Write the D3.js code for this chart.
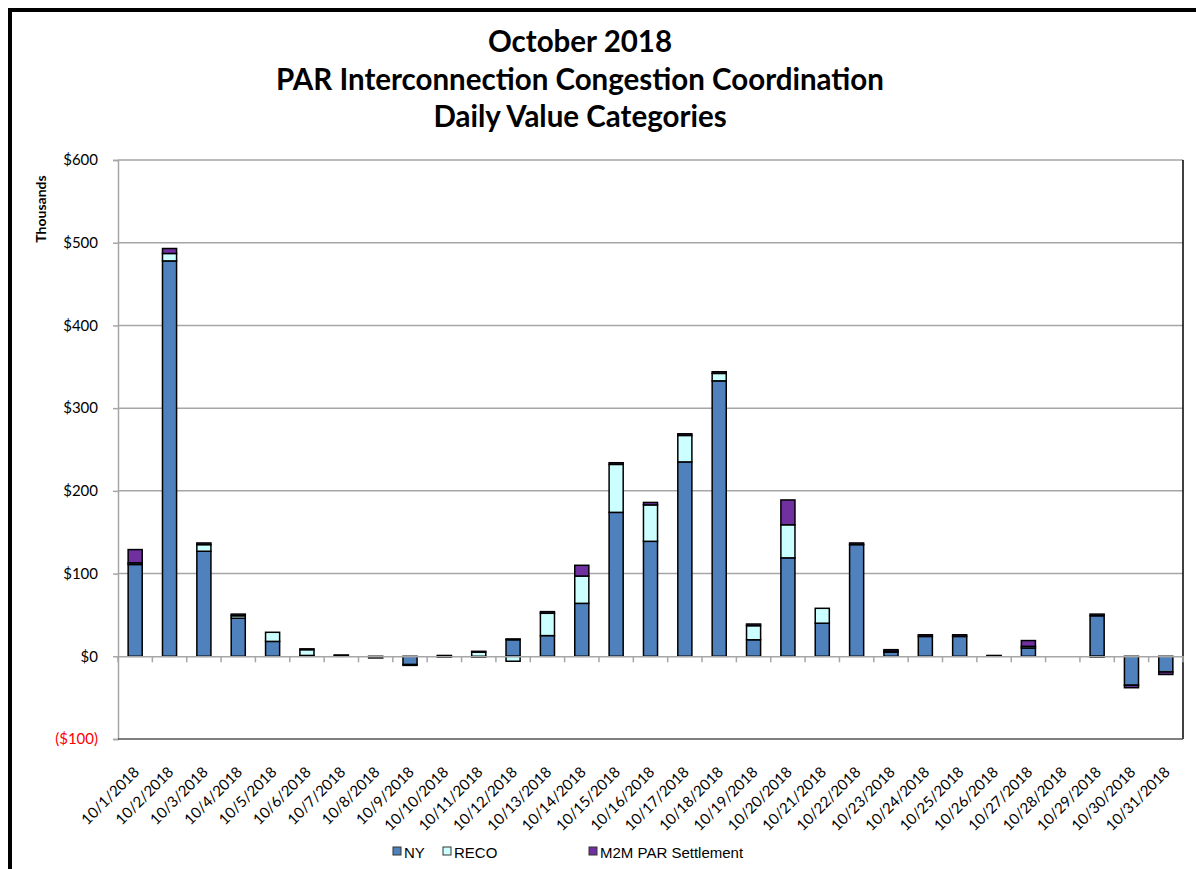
<!DOCTYPE html>
<html>
<head>
<meta charset="utf-8">
<script src="https://cdn.jsdelivr.net/npm/d3@7"></script>
<style>
  body { margin: 0; background: #fff; }
  svg { display: block; }
</style>
</head>
<body>
<div id="chart"></div>
<script>
// categories and series (thousands of $)
const dates = ["10/1/2018","10/2/2018","10/3/2018","10/4/2018","10/5/2018","10/6/2018","10/7/2018","10/8/2018",
  "10/9/2018","10/10/2018","10/11/2018","10/12/2018","10/13/2018","10/14/2018","10/15/2018","10/16/2018",
  "10/17/2018","10/18/2018","10/19/2018","10/20/2018","10/21/2018","10/22/2018","10/23/2018","10/24/2018",
  "10/25/2018","10/26/2018","10/27/2018","10/28/2018","10/29/2018","10/30/2018","10/31/2018"];
const ny   = [111, 478, 127, 46, 18, 1, 1, -2, -10, -1, -1, 20, 25, 64, 174, 139, 235, 333, 20, 119, 40, 135, 5, 24, 24, 0.5, 10, 0, 49, -35, -19];
const reco = [2, 9, 8, 3, 11, 7, 0, 0, 0, 1, 5, -6, 27, 33, 58, 44, 32, 9, 17, 40, 18, 0, 1, 0, 0, 0, 2, 0, -1, 0, 0];
const m2m  = [16, 6, 2, 2, 0, 1, 0.5, 0, -1, 0, 1, 1, 2, 13, 2, 3, 2, 2, 2, 30, 0, 2, 2, 2, 2, 0.5, 7, 0, 2, -3, -3];
const seriesNames = ["NY", "RECO", "M2M PAR Settlement"];
const yTicks = [-100, 0, 100, 200, 300, 400, 500, 600];
const titleLines = ["October 2018", "PAR Interconnection Congestion Coordination", "Daily Value Categories"];

function main() {
  const W = 1196, H = 869;
  const plot = {left: 118, right: 1183, top: 160, bottom: 739};
  const colors = ["#4F81BD", "#CCFFFF", "#7030A0"];

  const svg = d3.select("#chart").append("svg")
    .attr("width", W).attr("height", H);

  // outer frame
  svg.append("rect")
    .attr("x", 10).attr("y", 10)
    .attr("width", 1200).attr("height", 900)
    .attr("fill", "#fff").attr("stroke", "#000").attr("stroke-width", 4);

  // title
  svg.append("text")
    .attr("text-anchor", "middle")
    .attr("font-family", "Lato, 'Open Sans', sans-serif")
    .attr("font-weight", "bold").attr("font-size", 29.5)
    .selectAll("tspan").data(titleLines).enter().append("tspan")
    .attr("x", 580).attr("y", (d, i) => 52 + i * 37.5)
    .text(d => d);

  const rows = dates.map((d, i) => ({date: d, NY: ny[i], RECO: reco[i], "M2M PAR Settlement": m2m[i]}));
  const stacked = d3.stack().keys(seriesNames).offset(d3.stackOffsetDiverging)(rows);

  const x = d3.scaleBand().domain(dates)
    .range([plot.left, plot.right])
    .paddingInner(0.59).paddingOuter(0.295);
  const y = d3.scaleLinear().domain([-100, 600]).range([plot.bottom, plot.top]);

  // gridlines
  svg.append("g").selectAll("line")
    .data(yTicks.filter(t => t > 0)).enter().append("line")
    .attr("x1", plot.left).attr("x2", plot.right)
    .attr("y1", d => y(d)).attr("y2", d => y(d))
    .attr("stroke", "#a6a6a6").attr("stroke-width", 1.5);

  // y axis
  const yAxis = svg.append("g")
    .attr("transform", `translate(${plot.left},0)`)
    .call(d3.axisLeft(y).tickValues(yTicks).tickSize(5).tickPadding(15)
      .tickFormat(d => d < 0 ? "($" + Math.abs(d) + ")" : "$" + d));
  yAxis.select(".domain").attr("stroke", "#a6a6a6").attr("stroke-width", 1.5);
  yAxis.selectAll(".tick line").attr("stroke", "#a6a6a6").attr("stroke-width", 1.5);
  yAxis.selectAll(".tick text")
    .attr("font-family", "Lato, 'Open Sans', sans-serif").attr("font-size", 15)
    .attr("fill", d => d < 0 ? "#ff0000" : "#000");

  svg.append("text")
    .attr("transform", "translate(46,209) rotate(-90)")
    .attr("text-anchor", "middle")
    .attr("font-family", "Lato, sans-serif").attr("font-weight", "bold").attr("font-size", 14)
    .text("Thousands");

  // plot border right / bottom
  svg.append("line").attr("x1", plot.right).attr("x2", plot.right)
    .attr("y1", plot.top).attr("y2", plot.bottom)
    .attr("stroke", "#000").attr("stroke-width", 1.5);
  svg.append("line").attr("x1", plot.left).attr("x2", plot.right)
    .attr("y1", plot.bottom).attr("y2", plot.bottom)
    .attr("stroke", "#555").attr("stroke-width", 1.5);

  // bars
  svg.append("g").selectAll("g")
    .data(stacked).enter().append("g")
    .attr("fill", (d, i) => colors[i])
    .selectAll("rect").data(d => d).enter().append("rect")
    .attr("x", d => x(d.data.date))
    .attr("width", x.bandwidth())
    .attr("y", d => y(Math.max(d[0], d[1])))
    .attr("height", d => Math.abs(y(d[0]) - y(d[1])))
    .attr("stroke", "#000").attr("stroke-width", 1.5);

  // category axis at zero
  const xAxis = svg.append("g")
    .attr("transform", `translate(0,${y(0)})`)
    .call(d3.axisBottom(x).tickSize(0).tickFormat(""));
  xAxis.select(".domain").attr("stroke", "#a6a6a6").attr("stroke-width", 1.5);
  const step = x.step();
  svg.append("g").selectAll("line")
    .data(d3.range(dates.length + 1)).enter().append("line")
    .attr("x1", i => plot.left + i * step).attr("x2", i => plot.left + i * step)
    .attr("y1", y(0)).attr("y2", y(0) + 6)
    .attr("stroke", "#a6a6a6").attr("stroke-width", 1.5);

  // rotated date labels at the bottom
  svg.append("g").selectAll("text")
    .data(dates).enter().append("text")
    .attr("transform", d => `translate(${x(d) + x.bandwidth() / 2 + 5},${plot.bottom + 34}) rotate(-45)`)
    .attr("text-anchor", "end")
    .attr("font-family", "Lato, 'Open Sans', sans-serif").attr("font-size", 15)
    .text(d => d);

  // legend
  const legendX = [393, 443, 589];
  const lg = svg.append("g").selectAll("g")
    .data(seriesNames).enter().append("g")
    .attr("transform", (d, i) => `translate(${legendX[i]},847)`);
  lg.append("rect").attr("width", 8).attr("height", 8)
    .attr("fill", (d, i) => colors[i]).attr("stroke", "#333").attr("stroke-width", 1);
  lg.append("text").attr("x", 11).attr("y", 11)
    .attr("font-family", "'Liberation Sans', Arial, sans-serif").attr("font-size", 15)
    .text(d => d);
}

function whenDocumentLoaded(action) {
  if (document.readyState === "loading") {
    document.addEventListener("DOMContentLoaded", action);
  } else {
    action();
  }
}

whenDocumentLoaded(() => {
  main();
});
</script>
</body>
</html>
